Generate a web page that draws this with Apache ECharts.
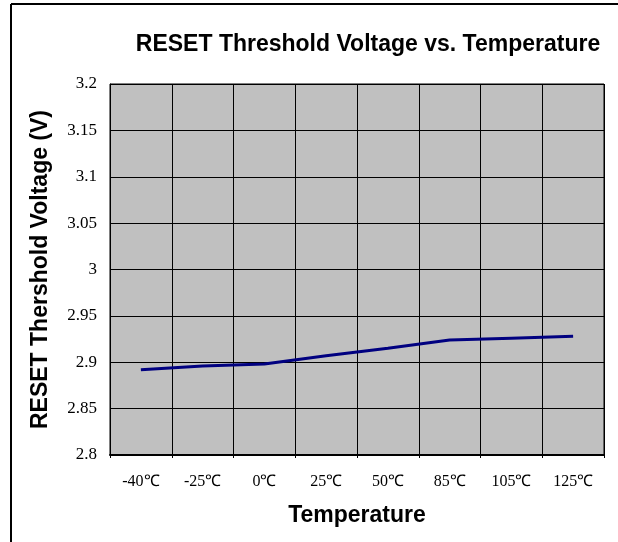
<!DOCTYPE html>
<html>
<head>
<meta charset="utf-8">
<script src="https://cdn.jsdelivr.net/npm/echarts@6/dist/echarts.min.js"></script>
<style>
html,body{margin:0;padding:0;background:#fff;}
#chart{width:618px;height:542px;}
</style>
</head>
<body>
<div id="chart"></div>
<script>
var categories = ['-40\u2103', '-25\u2103', '0\u2103', '25\u2103', '50\u2103', '85\u2103', '105\u2103', '125\u2103'];
var thresholdVoltage = [2.892, 2.896, 2.898, 2.907, 2.915, 2.924, 2.926, 2.928];
var yMin = 2.8, yMax = 3.2, yStep = 0.05;

var chart = echarts.init(document.getElementById('chart'), null, {renderer: 'canvas'});
chart.setOption({
  animation: false,
  backgroundColor: '#fff',
  title: {
    text: 'RESET Threshold Voltage vs. Temperature',
    left: 363, top: 28, textAlign: 'center',
    textStyle: {fontFamily: 'Liberation Sans, Arial, sans-serif', fontWeight: 'bold', fontSize: 23, color: '#000'}
  },
  graphic: [
    {type: 'line', shape: {x1: 11, y1: 4, x2: 618, y2: 4}, style: {stroke: '#000', lineWidth: 2}},
    {type: 'line', shape: {x1: 11, y1: 4, x2: 11, y2: 542}, style: {stroke: '#000', lineWidth: 2}}
  ],
  grid: {
    left: 110, right: 14, top: 84, bottom: 87,
    show: true, backgroundColor: '#C0C0C0', borderColor: '#000', borderWidth: 1
  },
  xAxis: {
    type: 'category',
    data: categories,
    boundaryGap: true,
    name: 'Temperature',
    nameLocation: 'middle',
    nameGap: 49,
    nameTextStyle: {fontFamily: 'Liberation Sans, Arial, sans-serif', fontWeight: 'bold', fontSize: 23, color: '#000'},
    axisLine: {lineStyle: {color: '#000', width: 2}},
    axisTick: {show: true, length: 3, lineStyle: {color: '#000'}},
    axisLabel: {fontFamily: 'Liberation Serif, Times New Roman, serif', fontSize: 16, color: '#000', margin: 19, interval: 0},
    splitLine: {show: true, lineStyle: {color: '#000', width: 1}}
  },
  yAxis: {
    type: 'value',
    min: yMin, max: yMax, interval: yStep,
    name: 'RESET Thershold Voltage (V)',
    nameLocation: 'middle',
    nameGap: 58,
    nameTextStyle: {fontFamily: 'Liberation Sans, Arial, sans-serif', fontWeight: 'bold', fontSize: 23, color: '#000'},
    axisLine: {show: true, lineStyle: {color: '#000', width: 1}},
    axisTick: {show: false},
    axisLabel: {fontFamily: 'Liberation Serif, Times New Roman, serif', fontSize: 17, color: '#000', margin: 13},
    splitLine: {show: true, lineStyle: {color: '#000', width: 1}}
  },
  series: [{
    type: 'line',
    data: thresholdVoltage,
    showSymbol: false,
    symbol: 'none',
    lineStyle: {color: '#000080', width: 3}
  }]
});
</script>
</body>
</html>
